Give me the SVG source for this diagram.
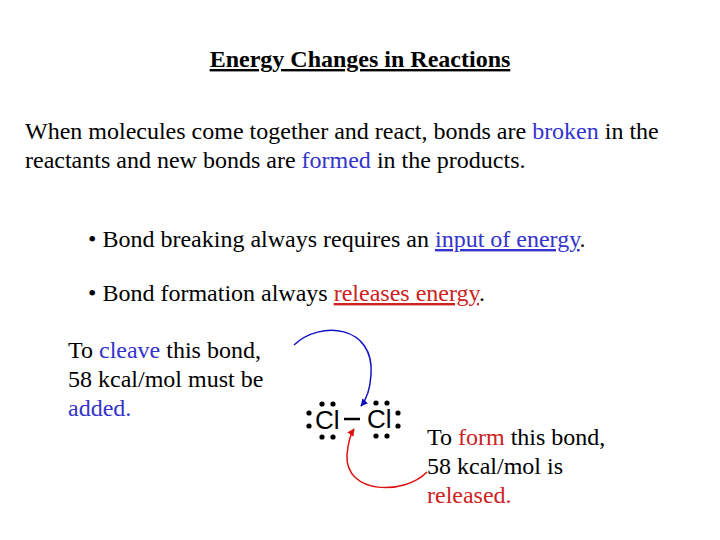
<svg xmlns="http://www.w3.org/2000/svg" width="720" height="540" viewBox="0 0 720 540">
<style>
.t{font-family:"Liberation Serif",serif;font-size:24px;fill:#000}
.b{fill:#3333cc}.r{fill:#cc2222}
.cl{font-family:"Liberation Sans",Arial,sans-serif;font-size:26px;fill:#000}
</style>
<defs>
<marker id="ab" viewBox="0 0 10 10" refX="9" refY="5" markerWidth="5" markerHeight="5" orient="auto"><path d="M0,0L10,5L0,10z" fill="#1010c0"/></marker>
<marker id="ar" viewBox="0 0 10 10" refX="9" refY="5" markerWidth="5" markerHeight="5" orient="auto"><path d="M0,0L10,5L0,10z" fill="#e01010"/></marker>
</defs>
<rect width="720" height="540" fill="#fff"/>
<text class="t" x="360" y="67" text-anchor="middle" font-weight="bold" text-decoration="underline">Energy Changes in Reactions</text>
<text class="t" x="25" y="139">When molecules come together and react, bonds are <tspan class="b">broken</tspan> in the</text>
<text class="t" x="25" y="168">reactants and new bonds are <tspan class="b">formed</tspan> in the products.</text>
<text class="t" x="88" y="247">• Bond breaking always requires an <tspan class="b" text-decoration="underline">input of energy</tspan>.</text>
<text class="t" x="88" y="301">• Bond formation always <tspan class="r" text-decoration="underline">releases energy</tspan>.</text>
<g id="cleave"><text class="t" x="68" y="358">To <tspan class="b">cleave</tspan> this bond,</text>
<text class="t" x="68" y="387">58 kcal/mol must be</text>
<text class="t" x="68" y="416" ><tspan class="b">added.</tspan></text></g>
<g id="form"><text class="t" x="427" y="445">To <tspan class="r">form</tspan> this bond,</text>
<text class="t" x="427" y="474">58 kcal/mol is</text>
<text class="t" x="427" y="503"><tspan class="r">released.</tspan></text></g>
<g id="molecule">
<text class="cl" x="315" y="429">Cl</text>
<text class="cl" x="367" y="428">Cl</text>
<line x1="344" y1="419" x2="360" y2="419" stroke="#000" stroke-width="2.5"/>
<g fill="#000">
<circle cx="322" cy="404" r="2.6"/><circle cx="333" cy="404" r="2.6"/>
<circle cx="322" cy="437" r="2.6"/><circle cx="333" cy="437" r="2.6"/>
<circle cx="309" cy="413" r="2.6"/><circle cx="309" cy="426" r="2.6"/>
<circle cx="376" cy="403" r="2.6"/><circle cx="387" cy="403" r="2.6"/>
<circle cx="397" cy="436" r="0" /><circle cx="376" cy="436" r="2.6"/><circle cx="387" cy="436" r="2.6"/>
<circle cx="398" cy="413" r="2.6"/><circle cx="398" cy="426" r="2.6"/>
</g></g>
<g id="connectors" fill="none" stroke-width="1.5">
<path d="M294,345 C320,320 375,325 371,375 C370,390 366,400 361,406" stroke="#1010c0" marker-end="url(#ab)"/>
<path d="M427,472 C405,495 345,495 347,455 C348,443 350,435 354,429" stroke="#e01010" marker-end="url(#ar)"/>
</g>
</svg>
